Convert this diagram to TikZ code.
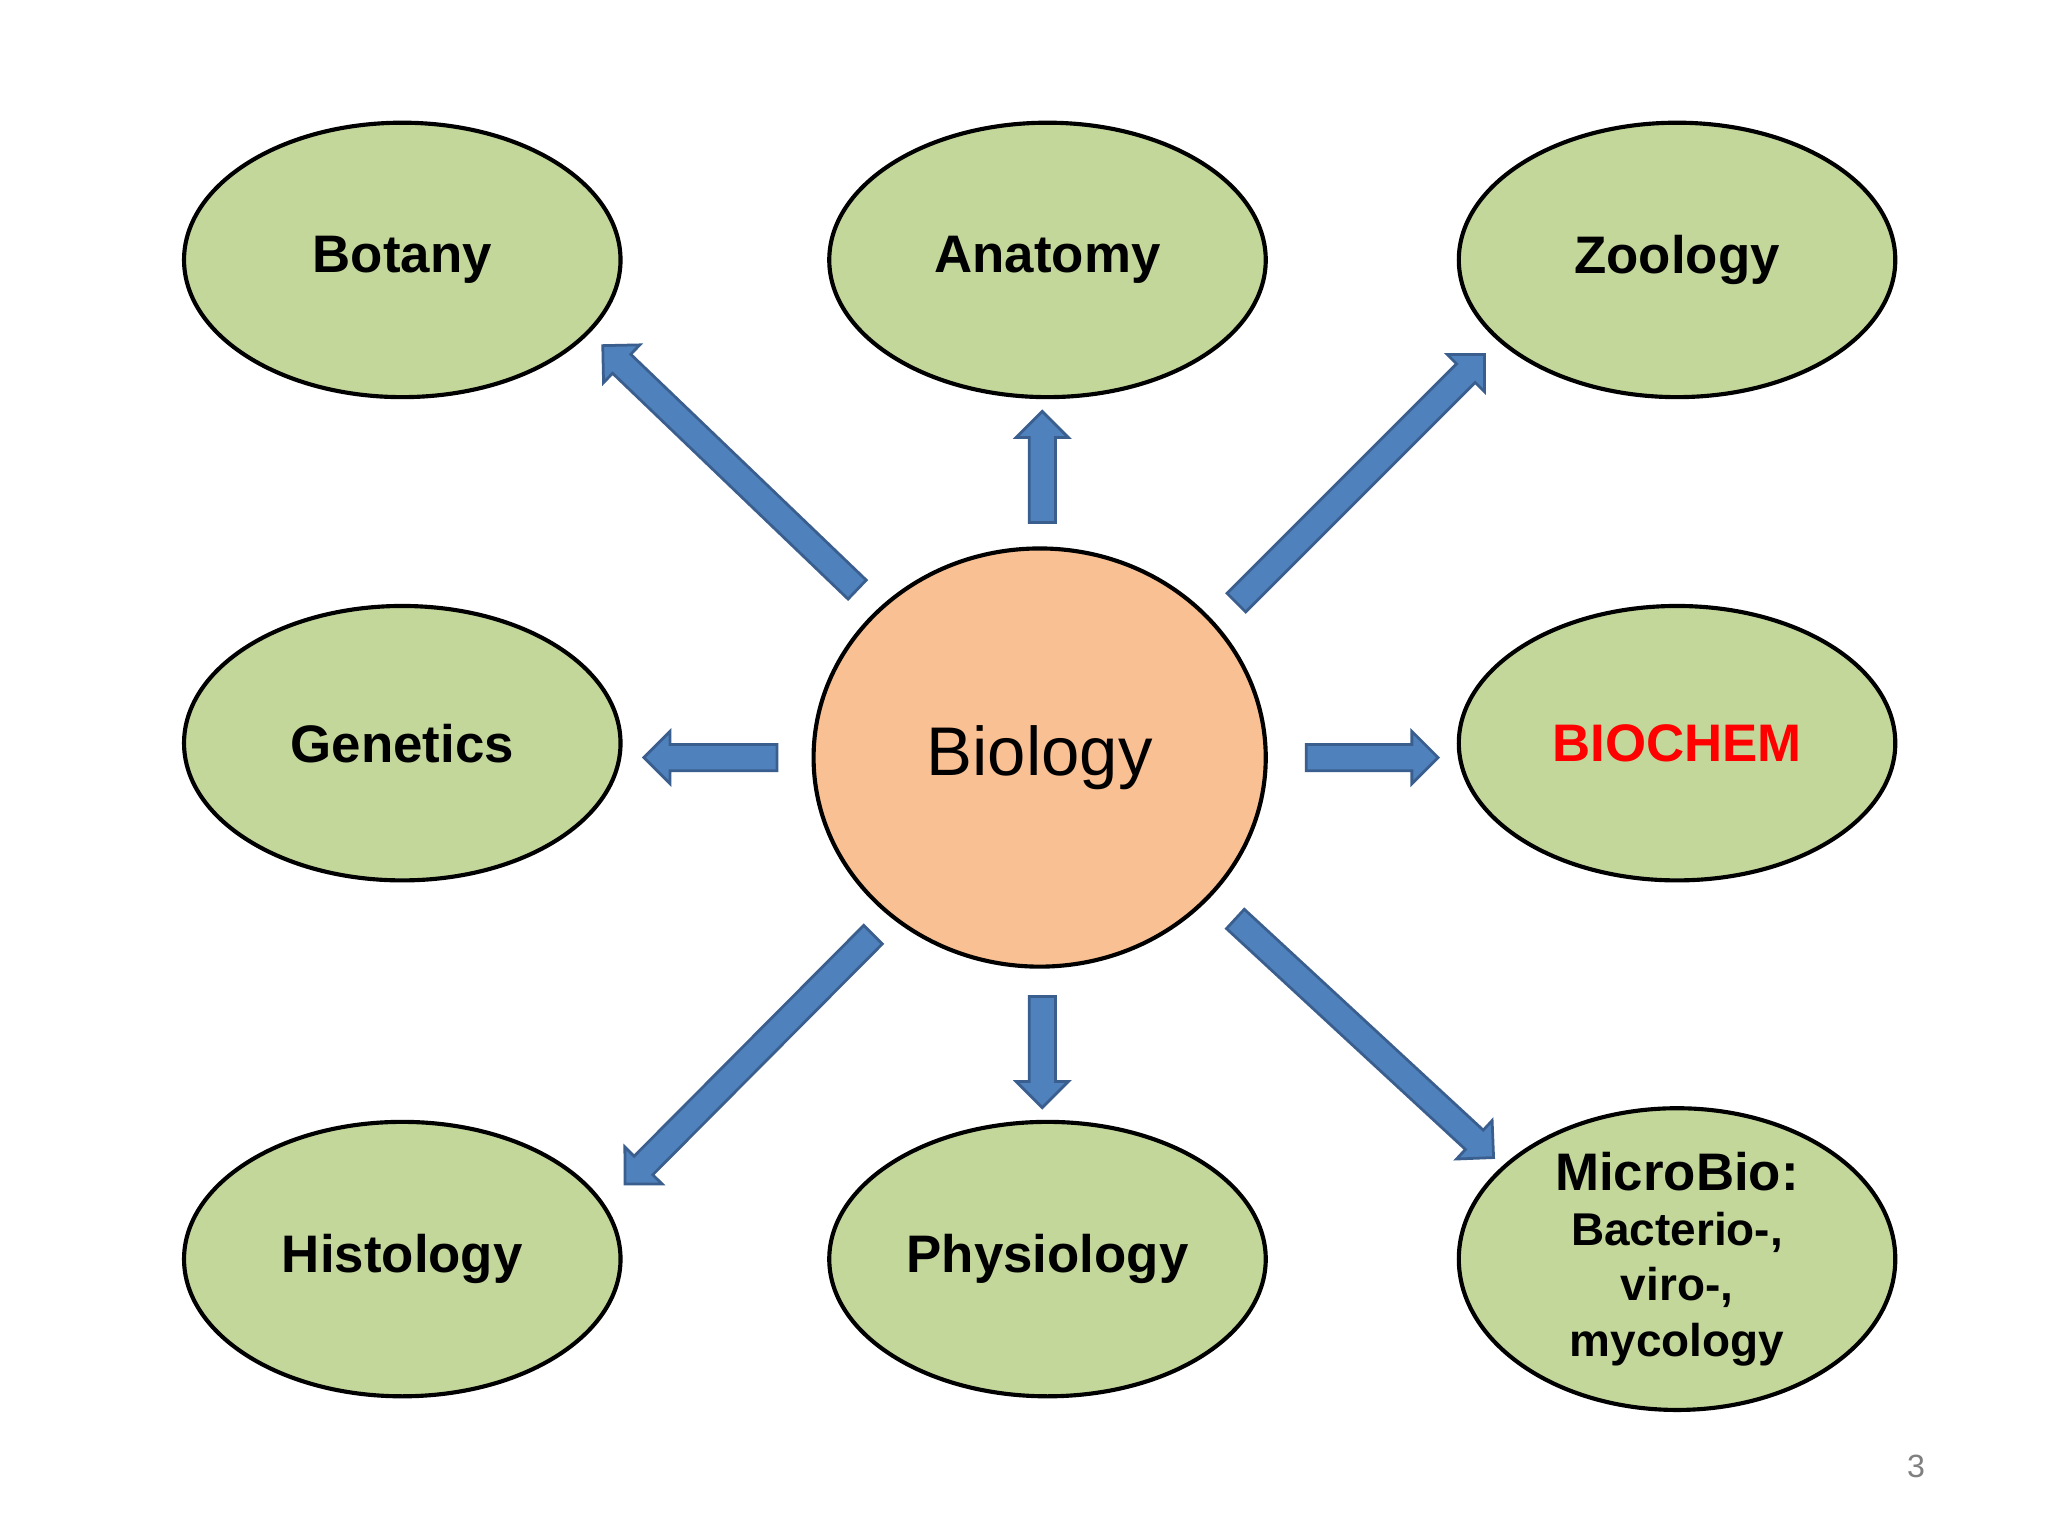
\documentclass[tikz,border=0pt]{standalone}
\usepackage{fontspec}
\setmainfont{Liberation Sans}
\usetikzlibrary{shapes.geometric,shapes.arrows,calc}
\definecolor{gfill}{HTML}{C4D79B}
\definecolor{ofill}{HTML}{F9C093}
\definecolor{afill}{HTML}{4F81BD}
\definecolor{aline}{HTML}{3A5F8F}
\tikzset{
  sub/.style={ellipse,draw=black,line width=0.9pt,fill=gfill,minimum width=3.34cm,minimum height=2.1cm,inner sep=0pt,font=\bfseries\fontsize{11.5}{13}\selectfont,align=center},
  big/.style={single arrow,fill=afill,draw=aline,line width=0.6pt,inner sep=0.09cm,single arrow head extend=0.1cm,single arrow head indent=0pt,single arrow tip angle=90,anchor=center}
}
\newcommand\bigarrow[2]{\path let \p1=($(#2)-(#1)$), \n1={atan2(\y1,\x1)}, \n2={veclen(\x1,\y1)} in node[big,rotate=\n1,minimum height=\n2] at ($(#1)!0.5!(#2)$) {};}
\begin{document}
\begin{tikzpicture}[x=0.01cm,y=-0.01cm]
\useasboundingbox[fill=white] (0,0) rectangle (1568,1176);
\node[sub] (bot) at (308,199) {Botany};
\node[sub] (ana) at (802,199) {Anatomy};
\node[sub] (zoo) at (1284,199) {Zoology};
\node[sub] (gen) at (308,569) {Genetics};
\node[sub,text=red] (bch) at (1284,569) {BIOCHEM};
\node[sub] (his) at (308,964) {Histology};
\node[sub] (phy) at (802,964) {Physiology};
\node[sub] (mic) at (1284,964) {MicroBio:\\[-1pt]{\fontsize{10}{12}\selectfont Bacterio-,}\\[-1pt]{\fontsize{10}{12}\selectfont viro-,}\\[-1pt]{\fontsize{10}{12}\selectfont mycology}};
\node[ellipse,draw=black,line width=0.9pt,fill=ofill,minimum width=3.46cm,minimum height=3.2cm,font=\fontsize{15}{18}\selectfont] (bio) at (796,580) {Biology};
\node[text=gray,font=\fontsize{7}{8}\selectfont] (pg) at (1467,1123) {3};
\coordinate (s1) at (660,455); \coordinate (e1) at (465,268);
\coordinate (s2) at (798,405); \coordinate (e2) at (798,320);
\coordinate (s3) at (943,465); \coordinate (e3) at (1133,275);
\coordinate (s4) at (600,580); \coordinate (e4) at (498,580);
\coordinate (s5) at (995,580); \coordinate (e5) at (1096,580);
\coordinate (s6) at (672,712); \coordinate (e6) at (482,903);
\coordinate (s7) at (798,758); \coordinate (e7) at (798,843);
\coordinate (s8) at (942,700); \coordinate (e8) at (1140,883);
\bigarrow{s1}{e1}\bigarrow{s2}{e2}\bigarrow{s3}{e3}\bigarrow{s4}{e4}
\bigarrow{s5}{e5}\bigarrow{s6}{e6}\bigarrow{s7}{e7}\bigarrow{s8}{e8}
\end{tikzpicture}
\end{document}
